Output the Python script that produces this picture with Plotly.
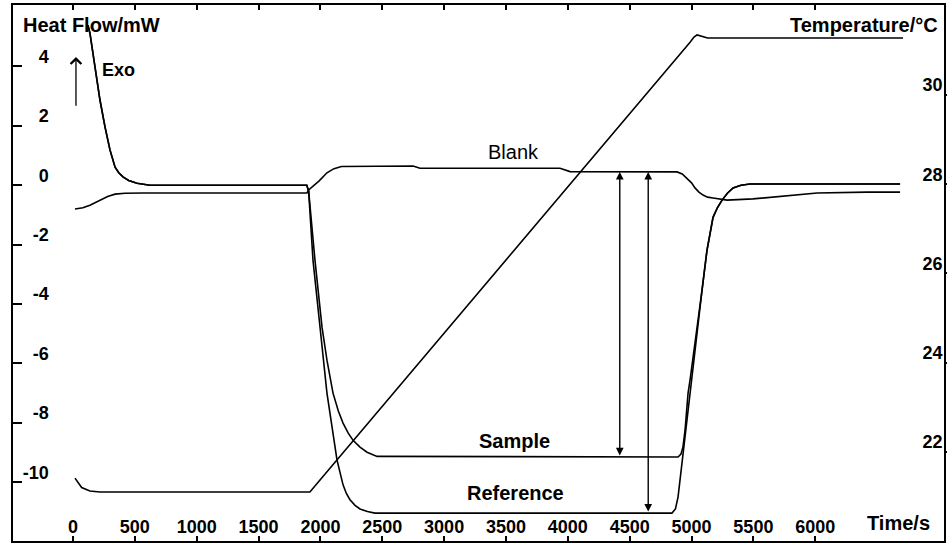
import plotly.graph_objects as go

# ---------------- data ----------------
# Temperature programme (right axis)
t_temp = [16, 40, 70, 137, 218, 1880, 1915, 4990, 5020, 5045, 5080, 5130, 6710]
temp_c = [21.41, 21.32, 21.20, 21.12, 21.10, 21.10, 21.10, 31.19, 31.30, 31.35, 31.32, 31.28, 31.28]

# Blank run heat flow
t_blank = [16, 80, 137, 218, 280, 340, 420, 566, 1892, 1905, 1950, 1990, 2053, 2110, 2170, 2749, 2805,
           3937, 4018, 4883, 4925, 4964, 5000, 5028, 5060, 5093, 5130, 5174, 5287, 5497, 5740, 6015,
           6419, 6686]
hf_blank = [-0.80, -0.76, -0.67, -0.50, -0.38, -0.30, -0.27, -0.26, -0.26, -0.16, 0.00, 0.15, 0.42,
            0.56, 0.63, 0.65, 0.57, 0.57, 0.46, 0.45, 0.38, 0.24, 0.08, -0.09, -0.23, -0.33, -0.40,
            -0.43, -0.50, -0.46, -0.36, -0.26, -0.23, -0.23]

# Sample run heat flow
t_sample = [121, 137, 178, 218, 259, 299, 340, 370, 404, 450, 517, 622, 1890, 1905, 1956, 2013,
            2053, 2102, 2145, 2183, 2225, 2264, 2320, 2377, 2458, 4891, 4915, 4931, 4948, 4972,
            4988, 5044, 5085, 5125, 5150, 5174, 5210, 5247, 5290, 5336, 5400, 5473, 6686]
hf_sample = [5.39, 5.12, 3.98, 2.87, 1.96, 1.19, 0.61, 0.42, 0.28, 0.16, 0.07, 0.0, 0.0, -0.20,
             -2.52, -4.78, -5.89, -7.00, -7.60, -8.01, -8.35, -8.59, -8.82, -8.99, -9.13, -9.15,
             -9.05, -8.81, -8.24, -7.00, -6.56, -4.87, -3.53, -2.19, -1.55, -1.08, -0.75, -0.50,
             -0.27, -0.09, 0.00, 0.04, 0.04]

# Reference run heat flow
t_ref = [121, 137, 178, 218, 259, 299, 340, 370, 404, 450, 517, 622, 1890, 1905, 1940, 1997, 2053,
         2134, 2160, 2183, 2210, 2239, 2280, 2320, 2380, 2441, 4842, 4870, 4891, 4923, 4956, 4988,
         5020, 5050, 5085, 5125, 5150, 5174, 5210, 5247, 5290, 5336, 5400, 5473, 6686]
hf_ref = [5.39, 5.12, 3.98, 2.87, 1.96, 1.19, 0.61, 0.42, 0.28, 0.16, 0.07, 0.0, 0.0, -0.20, -2.52,
          -4.78, -7.00, -9.25, -9.75, -10.09, -10.38, -10.59, -10.78, -10.90, -10.99, -11.04, -11.04,
          -10.90, -10.50, -9.35, -8.20, -7.00, -5.70, -4.70, -3.53, -2.19, -1.55, -1.08, -0.75,
          -0.50, -0.27, -0.09, 0.00, 0.04, 0.04]

x_ticks = [0, 500, 1000, 1500, 2000, 2500, 3000, 3500, 4000, 4500, 5000, 5500, 6000]
x_tick_text = ["0", "500", "1000", "1500", "2000", "2500", "3000", "3500", "4000", "4500", "5000", "5500", "6000"]
hf_ticks = [-10, -8, -6, -4, -2, 0, 2, 4]
hf_tick_text = ["-10", "-8", "-6", "-4", "-2", "0", "2", "4"]
temp_ticks = [22, 24, 26, 28, 30]
temp_tick_text = ["22", "24", "26", "28", "30"]

# difference arrows (time, top heat flow, bottom heat flow)
arrow_t = [4420, 4650]
arrow_top = [0.45, 0.45]
arrow_bottom = [-9.15, -11.04]

# ---------------- figure ----------------
FONT = "Liberation Sans"
line = dict(color="black", width=1.6)

fig = go.Figure()
fig.add_trace(go.Scatter(x=t_temp, y=temp_c, mode="lines", line=line, yaxis="y2",
                         name="Temperature"))
fig.add_trace(go.Scatter(x=t_blank, y=hf_blank, mode="lines", line=line, name="Blank"))
fig.add_trace(go.Scatter(x=t_sample, y=hf_sample, mode="lines", line=line, name="Sample"))
fig.add_trace(go.Scatter(x=t_ref, y=hf_ref, mode="lines", line=line, name="Reference"))
# carriers for the tick-label axes
fig.add_trace(go.Scatter(x=[None], y=[None], yaxis="y3", showlegend=False, hoverinfo="skip"))
fig.add_trace(go.Scatter(x=[None], y=[None], yaxis="y4", showlegend=False, hoverinfo="skip"))

ann = []
for tx, top, bot in zip(arrow_t, arrow_top, arrow_bottom):
    ann.append(dict(x=tx, y=top, ax=tx, ay=bot, xref="x", yref="y", axref="x", ayref="y",
                    showarrow=True, arrowhead=2, arrowsize=1.1, arrowwidth=1.4,
                    arrowside="end+start", arrowcolor="black", text=""))
# Exo arrow
ann.append(dict(x=24, y=4.32, ax=24, ay=2.63, xref="x", yref="y", axref="x", ayref="y",
                showarrow=True, arrowhead=4, arrowsize=1.6, arrowwidth=1.3,
                arrowcolor="black", text=""))
tf = dict(family=FONT, size=20, color="black")
ann += [
    dict(text="<b>Heat Flow/mW</b>", x=0.009, y=0.963, xref="paper", yref="paper",
         xanchor="left", yanchor="middle", showarrow=False, font=tf),
    dict(text="<b>Temperature/°C</b>", x=0.996, y=0.963, xref="paper", yref="paper",
         xanchor="right", yanchor="middle", showarrow=False, font=tf),
    dict(text="<b>Time/s</b>", x=0.987, y=0.034, xref="paper", yref="paper",
         xanchor="right", yanchor="middle", showarrow=False, font=tf),
    dict(text="<b>Exo</b>", x=0.093, y=0.878, xref="paper", yref="paper",
         xanchor="left", yanchor="middle", showarrow=False, font=dict(family=FONT, size=18, color="black")),
    dict(text="Blank", x=3557, y=1.12, xref="x", yref="y", showarrow=False,
         font=dict(family=FONT, size=20, color="black")),
    dict(text="<b>Sample</b>", x=3573, y=-8.62, xref="x", yref="y", showarrow=False,
         font=dict(family=FONT, size=20, color="black")),
    dict(text="<b>Reference</b>", x=3581, y=-10.36, xref="x", yref="y", showarrow=False,
         font=dict(family=FONT, size=20, color="black")),
]

tick_font = dict(family=FONT, size=18, color="black", weight="bold")
fig.update_layout(
    width=947, height=549,
    margin=dict(l=13, r=3, t=5, b=8),
    paper_bgcolor="white", plot_bgcolor="white",
    showlegend=False,
    font=dict(family=FONT, color="black"),
    xaxis=dict(range=[-485, 7041], tickvals=x_ticks, ticktext=x_tick_text,
               ticks="inside", ticklen=5, tickwidth=1.5, tickcolor="black",
               ticklabelposition="inside", tickfont=tick_font,
               showline=True, linewidth=2, linecolor="black", mirror="ticks",
               showgrid=False, zeroline=False, automargin=False),
    yaxis=dict(range=[-11.98, 6.07], tickvals=hf_ticks, showticklabels=False,
               ticks="inside", ticklen=9, tickwidth=1.5, tickcolor="black",
               showline=True, linewidth=2, linecolor="black",
               showgrid=False, zeroline=False, automargin=False),
    yaxis3=dict(range=[-11.98, 6.07], tickvals=hf_ticks, ticktext=hf_tick_text,
                overlaying="y", anchor="free",
                position=0.0385, side="left", ticks="", showline=False,
                showgrid=False, zeroline=False, tickfont=tick_font,
                ticklabelshift=-10, automargin=False),
    yaxis2=dict(range=[20.0, 32.02], tickvals=temp_ticks, showticklabels=False,
                overlaying="y", side="right",
                anchor="x", ticks="outside", ticklen=4, tickwidth=1.5, tickcolor="black",
                showline=True, linewidth=2, linecolor="black",
                showgrid=False, zeroline=False, automargin=False),
    yaxis4=dict(range=[20.0, 32.02], tickvals=temp_ticks, ticktext=temp_tick_text,
                overlaying="y", anchor="free", position=0.9985, side="left",
                ticks="", showline=False, showgrid=False, zeroline=False,
                tickfont=tick_font, ticklabelshift=-10, automargin=False),
    annotations=ann,
)

fig.write_html("out.html")
